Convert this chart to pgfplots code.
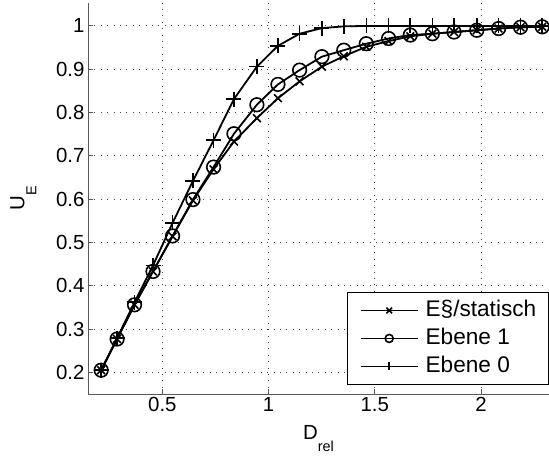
\documentclass[border=0pt]{standalone}
\usepackage{fontspec}
\setmainfont{Liberation Sans}
\usepackage{pgfplots}
\pgfplotsset{compat=1.18}
\newcommand{\bigf}{\fontsize{20.5}{24}\selectfont}
\newcommand{\legf}{\fontsize{22.7}{26}\selectfont}
\newcommand{\sub}[1]{\raisebox{-12bp}{\fontsize{14.5}{16}\selectfont #1}}
\begin{document}
\begin{tikzpicture}[x=1bp,y=1bp]
\begin{axis}[
  at={(0,0)}, anchor=south west,
  scale only axis, width=461bp, height=391bp,
  xmin=0.15, xmax=2.32, ymin=0.15, ymax=1.053,
  axis x line*=bottom, axis y line*=left,
  axis line style={draw=black!65, line width=0.9bp},
  xtick={0.5,1,1.5,2}, ytick={0.2,0.3,...,1.0},
  yticklabels={0.2,0.3,0.4,0.5,0.6,0.7,0.8,0.9,1},
  xticklabels={0.5,1,1.5,2},
  tick align=inside, major tick length=5bp,
  tick style={draw=black!65, line width=0.9bp},
  tick label style={font=\bigf},
  /pgf/number format/assume math mode=true,
  xmajorgrids, ymajorgrids,
  grid style={draw=black!75, line width=0.9bp, dash pattern=on 0.9bp off 5.5bp},
  xlabel={\bigf D\sub{rel}},
  ylabel={\bigf U\sub{E}},
  xlabel style={at={(axis description cs:0.5,0)}, anchor=north, yshift=-28bp},
  ylabel style={at={(axis description cs:0,0.5)}, anchor=south, yshift=48bp},
  legend style={at={(axis description cs:0.9995,0.023)}, anchor=south east,
    font=\legf, draw=black, line width=1.1bp, inner xsep=12bp, inner ysep=7bp,
    row sep=6bp, column sep=0bp,
    nodes={inner sep=0bp, text height=17bp, text depth=5bp},
    cells={anchor=west}},
  legend image code/.code={\draw[#1, mark=none, line width=1.8bp] (0bp,0bp) -- (57bp,0bp); \draw[#1, mark size=4bp, line width=1.5bp] plot coordinates {(28.5bp,0bp)};},
  legend cell align=left,
]
\addplot[black, line width=1.8bp, mark=x, mark size=5.5bp, mark options={solid, line width=1.6bp}] coordinates {
(0.212,0.205) (0.287,0.277) (0.369,0.356) (0.456,0.433) (0.548,0.514) (0.644,0.597)
(0.741,0.669) (0.837,0.733) (0.945,0.787) (1.044,0.833) (1.146,0.872) (1.251,0.906)
(1.354,0.930) (1.460,0.952) (1.565,0.965) (1.667,0.976) (1.771,0.982) (1.873,0.986)
(1.980,0.990) (2.083,0.994) (2.186,0.997) (2.288,0.998)};
\addlegendentry{\hspace{7bp}E§/statisch}
\addplot[black, line width=1.8bp, mark=o, mark size=6.8bp, mark options={solid, line width=1.6bp}] coordinates {
(0.212,0.205) (0.287,0.277) (0.369,0.356) (0.456,0.433) (0.548,0.515) (0.644,0.599)
(0.741,0.674) (0.837,0.751) (0.945,0.818) (1.044,0.865) (1.146,0.898) (1.251,0.929)
(1.354,0.944) (1.460,0.959) (1.565,0.971) (1.667,0.979) (1.771,0.982) (1.873,0.986)
(1.980,0.990) (2.083,0.994) (2.186,0.997) (2.288,0.998)};
\addlegendentry{\hspace{7bp}Ebene 1}
\addplot[black, line width=1.8bp, mark=+, mark size=7.5bp, mark options={solid, line width=1.6bp}] coordinates {
(0.212,0.205) (0.287,0.279) (0.369,0.362) (0.456,0.447) (0.548,0.545) (0.644,0.642)
(0.741,0.736) (0.837,0.831) (0.945,0.906) (1.044,0.954) (1.146,0.982) (1.251,0.995)
(1.354,0.999) (1.460,1.000) (1.565,1.000) (1.667,1.000) (1.771,1.000) (1.873,1.000)
(1.980,1.000) (2.083,1.000) (2.186,1.000) (2.288,1.000)};
\addlegendentry{\hspace{7bp}Ebene 0}
\end{axis}
\pgfresetboundingbox
\path[use as bounding box] (-88bp,-70bp) rectangle (461bp,394bp);
\end{tikzpicture}
\end{document}
